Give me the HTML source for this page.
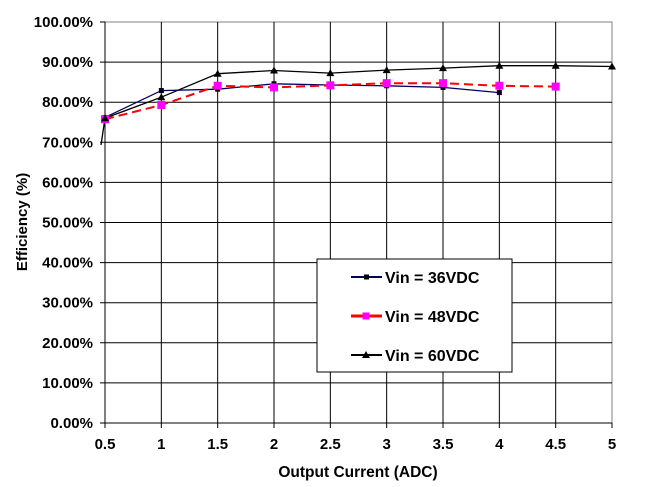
<!DOCTYPE html>
<html><head><meta charset="utf-8"><style>
html,body{margin:0;padding:0;background:#fff;}
svg{display:block;font-family:"Liberation Sans",Arial,sans-serif;font-weight:bold;}
</style></head><body>
<svg id="c" width="645" height="487" viewBox="0 0 645 487" xmlns="http://www.w3.org/2000/svg">
<rect x="105" y="22" width="507" height="401" fill="#fff" stroke="#808080" stroke-width="1"/>
<g id="grid" stroke="#000" stroke-width="1"></g>
<g id="lab" font-size="15" fill="#000"></g>
<text x="358" y="477" font-size="15.5" text-anchor="middle">Output Current (ADC)</text>
<text transform="translate(27,222) rotate(-90)" font-size="15" text-anchor="middle">Efficiency (%)</text>
<g id="series"></g>
<rect x="317" y="259" width="195" height="113" fill="#fff" stroke="#000" stroke-width="1"/>
<line x1="351" y1="277" x2="382" y2="277" stroke="#000060" stroke-width="2"/>
<rect x="364" y="274.5" width="5" height="5" fill="#000"/>
<text x="385" y="283" font-size="16">Vin = 36VDC</text>
<line x1="351" y1="316" x2="382" y2="316" stroke="#ff0000" stroke-width="3"/>
<rect x="362.5" y="312.5" width="7" height="7" fill="#ff00ff"/>
<text x="385" y="322" font-size="16">Vin = 48VDC</text>
<line x1="351" y1="355" x2="382" y2="355" stroke="#000" stroke-width="2"/>
<polygon points="366,351 362,358 370,358" fill="#000"/>
<text x="385" y="361" font-size="16">Vin = 60VDC</text>
</svg>
<script>
var NS="http://www.w3.org/2000/svg";
function X(v){return 105+(v-0.5)*112.67;}
function Y(p){return 423-p*4.01;}
function el(t,a,p){var e=document.createElementNS(NS,t);for(var k in a)e.setAttribute(k,a[k]);p.appendChild(e);return e;}
var g=document.getElementById('grid'),L=document.getElementById('lab'),S=document.getElementById('series');
for(var i=0;i<=10;i++){var y=Y(i*10);
 if(i<10) el('line',{x1:100,y1:y,x2:612,y2:y},g); else el('line',{x1:100,y1:y,x2:105,y2:y},g);
 var t=el('text',{x:93,y:y+5,'text-anchor':'end'},L);t.textContent=(i*10)+'.00%';}
for(var j=0;j<10;j++){var v=0.5+j*0.5,x=X(v);
 if(j<9) el('line',{x1:x,y1:22,x2:x,y2:428},g); else el('line',{x1:x,y1:423,x2:x,y2:428},g);
 var t=el('text',{x:x,y:449,'text-anchor':'middle'},L);t.textContent=String(v);}
var xs=[0.5,1,1.5,2,2.5,3,3.5,4,4.5,5];
var blue=[76.2,82.9,83.25,84.6,84.3,84.1,83.7,82.4];
var mag=[75.75,79.3,84.1,83.7,84.2,84.75,84.75,84.1,83.9];
var blk=[76,81.25,87.1,87.9,87.25,88,88.5,89.1,89.1,88.9];
function pts(a){return a.map(function(p,i){return X(xs[i]).toFixed(1)+','+Y(p).toFixed(1);}).join(' ');}
el('polyline',{points:'101,145 '+pts(blk),fill:'none',stroke:'#000',"stroke-width":1.3},S);
el('polyline',{points:pts(blue),fill:'none',stroke:'#000060',"stroke-width":1.3},S);
el('polyline',{points:pts(mag),fill:'none',stroke:'#ff0000',"stroke-width":2,"stroke-dasharray":"9,5"},S);
blue.forEach(function(p,i){el('rect',{x:X(xs[i])-2.5,y:Y(p)-2.5,width:5,height:5,fill:'#000'},S);});
mag.forEach(function(p,i){el('rect',{x:X(xs[i])-4,y:Y(p)-4,width:8,height:8,fill:'#ff00ff'},S);});
blk.forEach(function(p,i){var x=X(xs[i]),y=Y(p);el('polygon',{points:x+','+(y-4)+' '+(x-4)+','+(y+3)+' '+(x+4)+','+(y+3),fill:'#000'},S);});
</script>
</body></html>
